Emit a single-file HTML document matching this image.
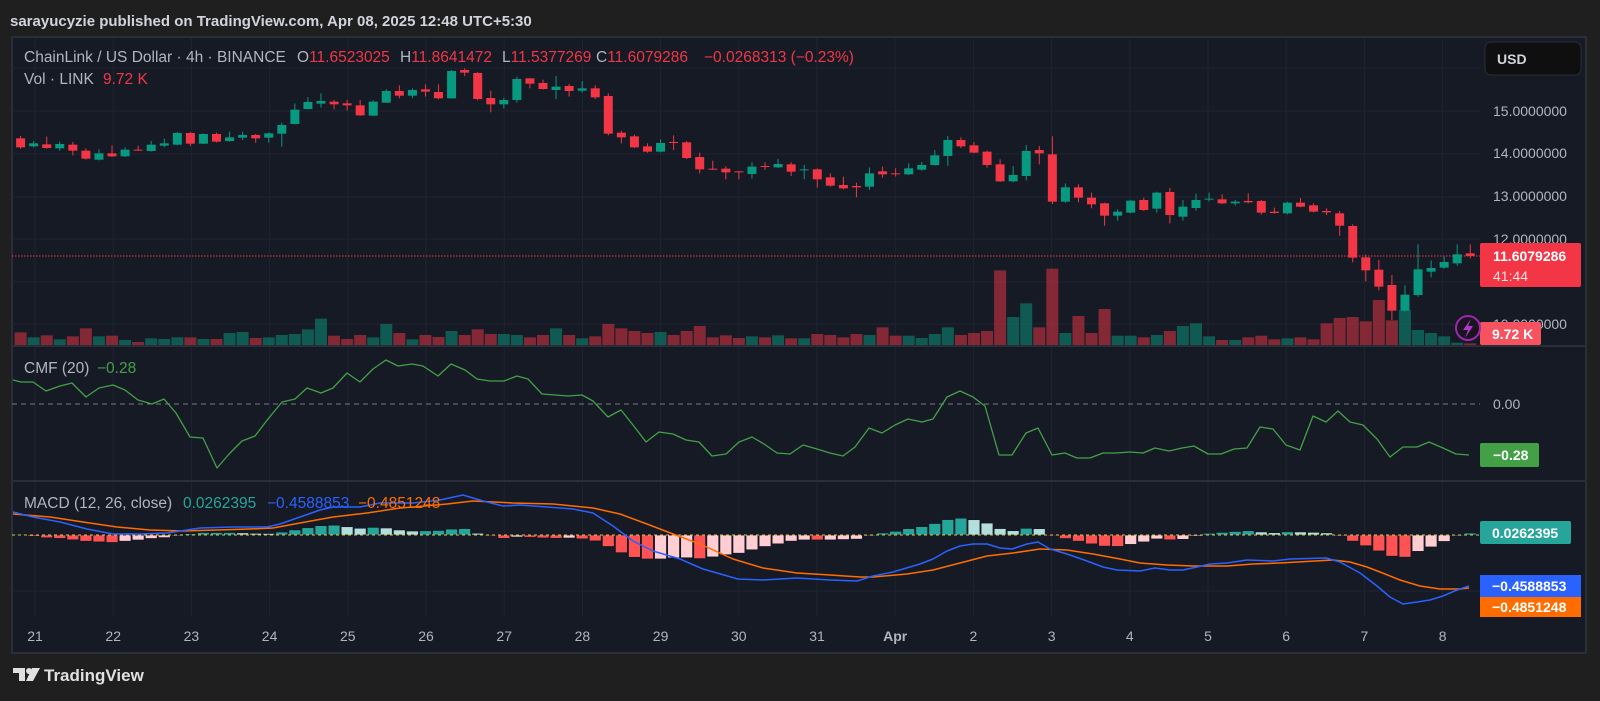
<!DOCTYPE html>
<html><head><meta charset="utf-8">
<style>
html,body{margin:0;padding:0;background:#1f1f1f;width:1600px;height:701px;overflow:hidden}
svg{display:block}
text{font-family:"Liberation Sans",sans-serif}
</style></head>
<body>
<svg id="s" width="1600" height="701" xmlns="http://www.w3.org/2000/svg">
<rect x="0" y="0" width="1600" height="701" fill="#1f1f1f"/>
<text x="10" y="26" font-size="15" font-weight="bold" fill="#d1d4dc">sarayucyzie published on TradingView.com, Apr 08, 2025 12:48 UTC+5:30</text>
<rect x="12" y="37" width="1574" height="616" fill="#161a25" stroke="#2a2e39" stroke-width="2"/>
<g id="grid"></g>
<g id="vol"></g>
<g id="cand"></g>
<g id="ind"></g>
<line x1="12" y1="346" x2="1586" y2="346" stroke="#2a2e39" stroke-width="2"/>
<line x1="12" y1="481" x2="1586" y2="481" stroke="#2a2e39" stroke-width="2"/>
<!-- legends -->
<g font-size="15.5">
<text x="24" y="62" fill="#b2b5be">ChainLink / US Dollar · 4h · BINANCE</text>
<text x="297" y="62" fill="#b2b5be">O<tspan fill="#f23645">11.6523025</tspan></text>
<text x="400" y="62" fill="#b2b5be">H<tspan fill="#f23645">11.8641472</tspan></text>
<text x="502" y="62" fill="#b2b5be">L<tspan fill="#f23645">11.5377269</tspan></text>
<text x="596" y="62" fill="#b2b5be">C<tspan fill="#f23645">11.6079286</tspan></text>
<text x="704" y="62" fill="#f23645">−0.0268313 (−0.23%)</text>
<text x="24" y="84" fill="#b2b5be">Vol · LINK</text>
<text x="103" y="84" fill="#f23645">9.72 K</text>
<text x="24" y="373" fill="#b2b5be">CMF (20)</text>
<text x="97" y="373" fill="#43a047">−0.28</text>
<text x="24" y="508" fill="#b2b5be">MACD (12, 26, close)</text>
<text x="183" y="508" fill="#26a69a">0.0262395</text>
<text x="267" y="508" fill="#2962ff">−0.4588853</text>
<text x="358" y="508" fill="#ff6d00">−0.4851248</text>
</g>
<!-- right axis -->
<rect x="1485" y="42" width="96" height="33" rx="6" fill="#0f0f0f" stroke="#2a2e39"/>
<text x="1497" y="64" font-size="14" font-weight="bold" fill="#d1d4dc">USD</text>
<g font-size="14" fill="#b2b5be">
<text x="1493" y="116">15.0000000</text>
<text x="1493" y="158">14.0000000</text>
<text x="1493" y="201">13.0000000</text>
<text x="1493" y="244">12.0000000</text>
<text x="1493" y="287">11.0000000</text>
<text x="1493" y="329">10.0000000</text>
<text x="1493" y="409">0.00</text>
</g>
<rect x="1480" y="243" width="101" height="44" rx="2" fill="#f23645"/>
<text x="1493" y="261" font-size="14" font-weight="bold" fill="#fff">11.6079286</text>
<text x="1493" y="281" font-size="14" fill="#fbe0e2">41:44</text>
<rect x="1480" y="322" width="61" height="23" rx="2" fill="#f7525f"/>
<text x="1492" y="339" font-size="14" font-weight="bold" fill="#fff">9.72 K</text>
<circle cx="1468" cy="328" r="12" fill="#1a1420" stroke="#9c27b0" stroke-width="2"/>
<path d="M1471 319 L1463 330 L1468 330 L1465 338 L1473 326 L1468 326 Z" fill="#b03ad0"/>
<rect x="1480" y="443" width="59" height="24" rx="2" fill="#43a047"/>
<text x="1493" y="460" font-size="14" font-weight="bold" fill="#fff">−0.28</text>
<rect x="1480" y="521" width="91" height="23" rx="2" fill="#26a69a"/>
<text x="1492" y="538" font-size="14" font-weight="bold" fill="#fff">0.0262395</text>
<rect x="1480" y="575" width="101" height="22" fill="#2962ff"/>
<text x="1492" y="591" font-size="14" font-weight="bold" fill="#fff">−0.4588853</text>
<rect x="1480" y="597" width="101" height="20" fill="#ff6d00"/>
<text x="1492" y="612" font-size="14" font-weight="bold" fill="#fff">−0.4851248</text>
<g id="time" font-size="14" fill="#b2b5be" text-anchor="middle"></g>
<!-- logo -->
<g transform="translate(13,668)">
<path d="M0 0 H12 V13 H6 V5 H0 Z" fill="#e0e0e0"/>
<circle cx="16" cy="3" r="3" fill="#e0e0e0"/>
<path d="M19 0 H27 L20 13 H13 Z" fill="#e0e0e0"/>
</g>
<text x="44" y="681" font-size="17" font-weight="bold" fill="#e0e0e0">TradingView</text>
</svg>
<script>
var NS="http://www.w3.org/2000/svg";
function el(p,t,a){var e=document.createElementNS(NS,t);for(var k in a)e.setAttribute(k,a[k]);document.getElementById(p).appendChild(e);return e;}
[68,111,154,197,239,282,324].forEach(function(y){el("grid","line",{x1:12,x2:1480,y1:y,y2:y,stroke:"#1f2431","stroke-width":1});});
el("grid","line",{x1:12,x2:1480,y1:591,y2:591,stroke:"#1f2431"});
var labels=["21","22","23","24","25","26","27","28","29","30","31","Apr","2","3","4","5","6","7","8"];
for(var i=0;i<labels.length;i++){var x=35+78.2*i;
el("grid","line",{x1:x,x2:x,y1:38,y2:616,stroke:"#1f2431"});
var t=el("time","text",{x:x,y:641});t.textContent=labels[i];if(labels[i]=="Apr")t.setAttribute("font-weight","bold");}
el("grid","line",{x1:12,x2:1480,y1:256,y2:256,stroke:"#f23645","stroke-width":1,"stroke-dasharray":"1.5,1.5"});
el("grid","line",{x1:12,x2:1480,y1:404,y2:404,stroke:"#787b86","stroke-width":1,"stroke-dasharray":"5,4"});
var C="R235,262,228,266 G250,259,243,262 R253,264,230,266 G252,265,245,272 R254,272,246,286 R272,296,265,299 G280,299,268,301 R280,289,256,291 G269,289,262,291 R269,272,257,273 G254,273,243,275 G250,257,236,262 G219,254,216,256 R219,251,216,258 G222,251,220,252 R222,245,218,247 G232,243,215,245 G225,233,215,240 R225,235,222,248 G220,233,217,248 G195,221,188,260 G149,192,130,193 G126,147,112,148 G123,131,100,143 R125,133,120,148 R130,136,120,151 R136,166,120,168 G125,167,121,168 G93,128,87,129 R93,107,76,115 G90,107,85,114 R88,95,73,110 R96,115,73,118 G33,115,30,116 R30,38,25,48 R39,117,36,121 R114,133,92,157 G120,133,113,146 G57,120,50,128 R55,71,55,85 R69,87,59,89 G80,90,48,117 R78,93,72,110 G85,92,63,98 R85,112,76,117 R108,221,100,226 R218,232,212,250 R229,262,224,264 R259,275,250,278 G249,275,238,277 R246,249,226,270 R247,294,243,297 R291,328,278,340 R326,329,302,330 R326,337,319,358 R334,337,333,358 G320,342,307,356 R318,320,307,330 G312,322,297,324 R313,335,307,348 G328,330,315,358 R328,358,325,383 R352,377,340,380 R375,385,350,388 R378,382,368,412 G340,380,322,390 R334,343,320,353 R340,343,325,350 G325,343,310,345 G315,329,306,332 G286,315,270,317 G240,288,228,318 R240,259,232,264 R256,278,246,280 R275,315,272,323 R313,364,298,366 G345,364,318,367 G273,348,255,361 R270,280,258,313 R283,425,229,432 G382,425,370,428 R382,413,373,427 R413,433,398,445 R430,467,428,497 G455,467,448,482 G422,458,420,460 R420,450,413,453 G398,446,395,458 R396,465,384,490 G440,470,420,482 G420,444,401,452 G416,418,398,424 R418,430,403,432 G425,430,420,437 R423,427,400,430 R423,458,420,464 R455,459,443,461 G428,460,425,463 R428,440,414,442 R436,455,430,457 R453,457,445,465 R460,497,453,527 R498,593,493,607 R592,631,584,664 R629,680,600,691 R675,752,645,780 G704,752,676,755 G628,705,553,710 G624,635,601,652 G606,623,590,626 G583,610,553,617 R580,588,553,595".split(" ");
var V=[817,832,826,838,829,805,829,827,840,846,835,837,832,832,837,837,819,816,834,832,825,822,808,776,827,837,825,832,792,819,838,825,831,813,825,808,822,822,825,832,825,805,825,835,829,792,805,813,819,816,825,813,798,832,826,834,829,832,826,835,835,822,825,832,822,825,802,827,827,834,822,802,825,819,813,631,771,730,802,626,819,768,819,747,827,827,832,825,813,798,790,829,840,840,832,827,838,835,832,838,790,774,771,784,720,781,750,810,819,829,848,850];
var X=[];
for(var i=0;i<C.length;i++){
 var c=C[i],col=c[0]=="G"?"#089981":"#f23645",v=c.slice(1).split(",").map(Number);
 var x=20.6+13.06*i;X.push(x);
 var y=function(z){return 60+z/3;};
 var bt=y(v[0]),bb=y(v[1]);if(bb-bt<1)bb=bt+1;
 el("cand","line",{x1:x,x2:x,y1:y(v[2]),y2:y(v[3]),stroke:col,"stroke-width":1});
 el("cand","rect",{x:x-4.5,y:bt,width:9,height:bb-bt,fill:col});
 var vt=y(V[i]);
 el("vol","rect",{x:x-6,y:vt,width:12,height:346-vt,fill:col,"fill-opacity":0.5});
}
function poly(pts,col,w){el("ind","polyline",{points:pts.map(function(p){return p.join(",")}).join(" "),fill:"none",stroke:col,"stroke-width":w||1.5,"stroke-linejoin":"round"});}
var cmf=[[13,380],[21,382],[33,382],[46,391],[60,386],[72,383],[86,397],[99,388],[113,385],[125,390],[138,400],[152,404],[164,399],[176,413],[190,437],[203,438],[217,468],[230,453],[242,441],[255,436],[268,419],[282,402],[295,399],[307,388],[321,393],[333,388],[347,373],[360,382],[373,369],[386,360],[398,366],[412,364],[423,366],[438,376],[451,364],[465,370],[477,379],[490,381],[504,381],[517,376],[528,379],[542,394],[555,395],[568,396],[582,395],[593,401],[608,417],[621,410],[633,425],[646,442],[659,432],[673,434],[686,440],[699,442],[712,456],[726,454],[739,442],[752,437],[764,444],[777,453],[790,454],[803,445],[817,449],[830,453],[843,456],[855,447],[869,428],[882,433],[895,425],[908,419],[922,422],[933,419],[947,397],[960,391],[973,397],[985,406],[999,455],[1012,455],[1026,433],[1038,428],[1052,455],[1065,453],[1077,458],[1090,458],[1103,453],[1116,453],[1130,452],[1143,453],[1155,448],[1169,451],[1182,448],[1194,446],[1208,454],[1221,454],[1234,449],[1247,448],[1260,427],[1273,429],[1286,445],[1300,450],[1313,416],[1326,422],[1338,411],[1350,422],[1363,425],[1377,439],[1390,457],[1403,447],[1417,447],[1429,442],[1443,448],[1456,454],[1469,455]];
var blue=[[13,512],[33,517],[60,522],[87,529],[113,534],[140,534],[167,533],[200,528],[233,527],[267,527],[280,524],[300,517],[320,510],[333,507],[360,507],[380,503],[413,503],[440,500],[463,495],[483,501],[503,506],[520,505],[547,507],[573,509],[593,513],[613,526],[633,541],[653,551],[680,559],[703,569],[738,579],[763,580],[797,578],[830,580],[857,581],[873,576],[893,572],[920,564],[933,559],[947,551],[960,546],[973,544],[987,544],[1000,548],[1012,549],[1027,544],[1038,542],[1050,549],[1067,554],[1087,561],[1103,567],[1117,570],[1140,571],[1155,568],[1170,570],[1183,570],[1197,567],[1210,564],[1227,563],[1247,560],[1273,561],[1290,559],[1326,558],[1340,562],[1360,573],[1377,586],[1390,597],[1403,604],[1417,602],[1430,600],[1443,596],[1457,590],[1469,586]];
var orng=[[13,514],[50,517],[83,522],[117,527],[150,530],[183,531],[217,530],[250,529],[273,528],[300,523],[333,517],[367,513],[400,508],[413,507],[447,504],[473,501],[513,503],[553,504],[593,508],[620,514],[647,524],[673,534],[700,544],[733,559],[763,568],[797,573],[830,575],[860,577],[873,577],[907,574],[933,570],[960,563],[987,556],[1013,553],[1040,549],[1067,550],[1093,554],[1120,559],[1140,563],[1167,565],[1193,566],[1227,566],[1253,564],[1280,563],[1333,560],[1350,562],[1367,567],[1380,572],[1400,580],[1420,586],[1440,589],[1460,589],[1469,588]];
function interp(a,x){if(x<=a[0][0])return a[0][1];for(var i=1;i<a.length;i++){if(x<=a[i][0]){var t=(x-a[i-1][0])/(a[i][0]-a[i-1][0]);return a[i-1][1]+t*(a[i][1]-a[i-1][1]);}}return a[a.length-1][1];}
var prev=0;
for(var i=0;i<X.length;i++){
 var h=interp(orng,X[i])-interp(blue,X[i]);
 var col=h>=0?(h>=prev?"#26a69a":"#b2dfdb"):(h<=prev?"#ff5252":"#ffcdd2");
 prev=h;
 var y0=535,y1=535-h;
 el("ind","rect",{x:X[i]-6,y:Math.min(y0,y1),width:12,height:Math.max(1,Math.abs(h)),fill:col,stroke:"#131722","stroke-width":0.8});
}
el("ind","line",{x1:12,x2:1480,y1:535,y2:535,stroke:"#d4c24a","stroke-width":1,"stroke-dasharray":"3,3"});
poly(cmf,"#43a047",1.3);
poly(orng,"#ff6d00",1.5);
poly(blue,"#2962ff",1.5);
</script>
</body></html>
